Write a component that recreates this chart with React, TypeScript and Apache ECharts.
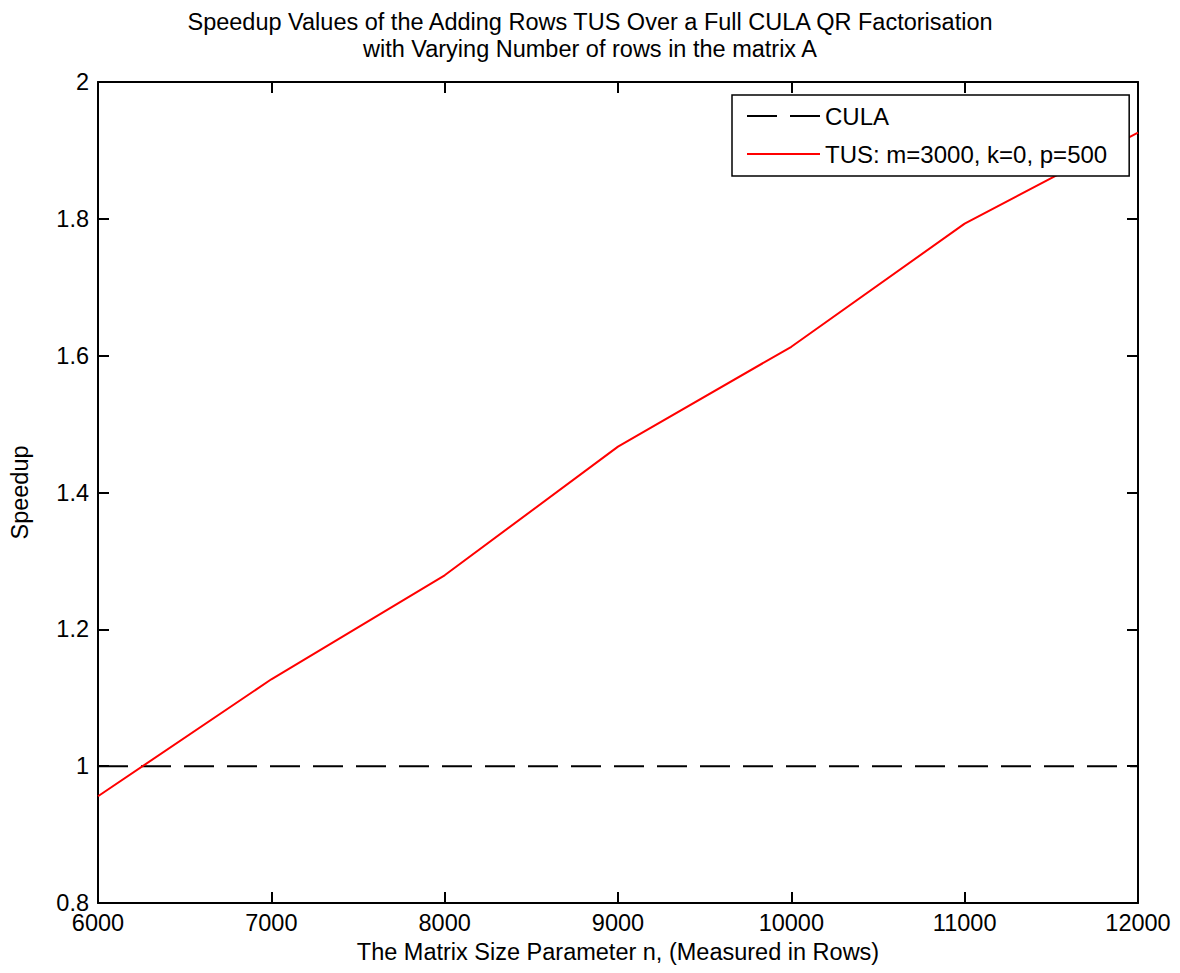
import React, { useEffect, useRef } from "react";
import * as echarts from "echarts";

const titleLines = [
  "Speedup Values of the Adding Rows TUS Over a Full CULA QR Factorisation",
  "with Varying Number of rows in the matrix A",
];
const xName = "The Matrix Size Parameter n, (Measured in Rows)";
const yName = "Speedup";
const rowCounts = [6000, 7000, 8000, 9000, 10000, 11000, 12000];
const tusSpeedup = [0.956, 1.127, 1.279, 1.467, 1.613, 1.793, 1.926];
const culaX = [6000, 12000];
const culaSpeedup = [1, 1];
const seriesNames = ["CULA", "TUS: m=3000, k=0, p=500"];

const FONT = "Liberation Sans";
const DASH = [30, 13];

export default function App() {
  const ref = useRef<HTMLDivElement>(null);
  useEffect(() => {
    document.body.style.margin = "0";
    const chart = echarts.init(ref.current!, null, { renderer: "svg" });
    const axisLine = { show: true, lineStyle: { color: "#000", width: 2 } };
    const axisTick = { show: true, inside: true, length: 11, lineStyle: { color: "#000", width: 2 } };
    chart.setOption({
      animation: false,
      backgroundColor: "#fff",
      textStyle: { fontFamily: FONT, color: "#000" },
      title: {
        text: titleLines.join("\n"),
        left: "center",
        top: 3,
        textStyle: { fontFamily: FONT, fontWeight: "normal", fontSize: 23.5, lineHeight: 27, color: "#000" },
      },
      grid: { left: 97, right: 42, top: 82, bottom: 70, containLabel: false },
      legend: {
        orient: "vertical",
        left: 732,
        top: 95,
        data: [
          { name: seriesNames[0], lineStyle: { color: "#000", width: 2, type: DASH }, itemStyle: { opacity: 0 } },
          { name: seriesNames[1], lineStyle: { color: "#ff0000", width: 2 }, itemStyle: { opacity: 0 } },
        ],
        backgroundColor: "#fff",
        borderColor: "#000",
        borderWidth: 1.5,
        borderRadius: 0,
        padding: [9, 22, 10, 14],
        itemWidth: 73,
        itemHeight: 14,
        itemGap: 14,
        textStyle: { fontFamily: FONT, fontSize: 24, color: "#000" },
      },
      xAxis: [
        {
          type: "value",
          min: 6000,
          max: 12000,
          interval: 1000,
          name: xName,
          nameLocation: "middle",
          nameGap: 31,
          nameTextStyle: { fontFamily: FONT, fontSize: 23.5, color: "#000" },
          axisLine,
          axisTick,
          splitLine: { show: false },
          axisLabel: { fontFamily: FONT, fontSize: 23.5, color: "#000", margin: 8, formatter: (v: number) => String(v) },
        },
        {
          type: "value",
          position: "top",
          min: 6000,
          max: 12000,
          interval: 1000,
          axisLine,
          axisTick,
          splitLine: { show: false },
          axisLabel: { show: false },
        },
      ],
      yAxis: [
        {
          type: "value",
          min: 0.8,
          max: 2,
          interval: 0.2,
          name: yName,
          nameLocation: "middle",
          nameGap: 66,
          nameTextStyle: { fontFamily: FONT, fontSize: 23.5, color: "#000" },
          axisLine,
          axisTick,
          splitLine: { show: false },
          axisLabel: {
            fontFamily: FONT,
            fontSize: 23.5,
            color: "#000",
            margin: 9,
            formatter: (v: number) => String(Math.round(v * 10) / 10),
          },
        },
        {
          type: "value",
          position: "right",
          min: 0.8,
          max: 2,
          interval: 0.2,
          axisLine,
          axisTick,
          splitLine: { show: false },
          axisLabel: { show: false },
        },
      ],
      series: [
        {
          name: seriesNames[0],
          type: "line",
          symbol: "none",
          data: culaX.map((x, i) => [x, culaSpeedup[i]]),
          lineStyle: { color: "#000", width: 2, type: DASH },
          itemStyle: { color: "#000" },
          z: 2,
        },
        {
          name: seriesNames[1],
          type: "line",
          symbol: "none",
          data: rowCounts.map((x, i) => [x, tusSpeedup[i]]),
          lineStyle: { color: "#ff0000", width: 2 },
          itemStyle: { color: "#ff0000" },
          z: 3,
        },
      ],
    });
    return () => chart.dispose();
  }, []);
  return <div ref={ref} style={{ width: 1180, height: 973 }} />;
}
